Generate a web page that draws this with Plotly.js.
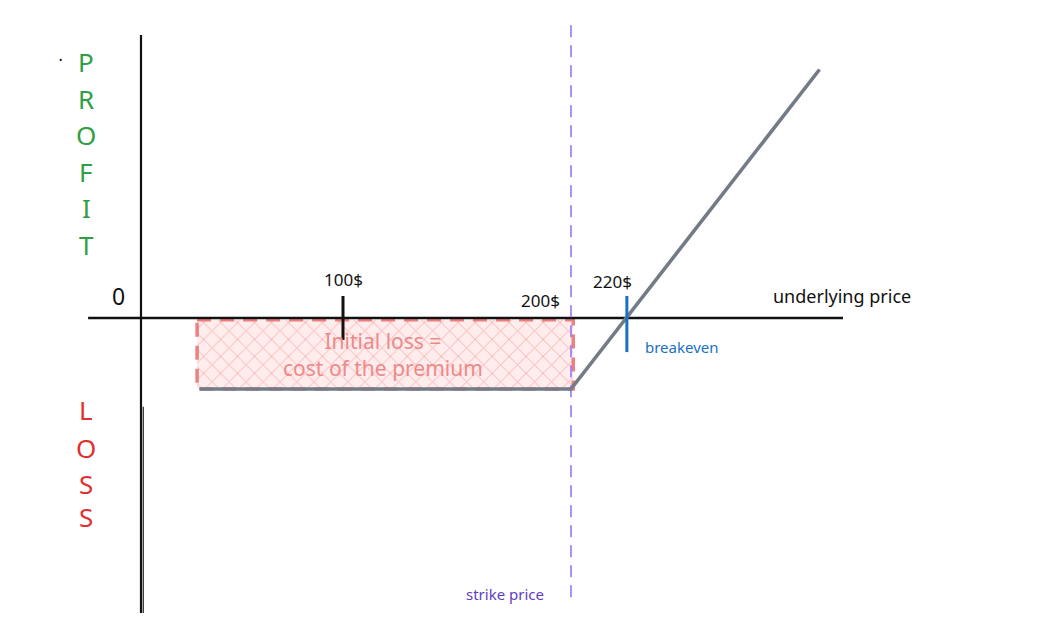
<!DOCTYPE html>
<html>
<head>
<meta charset="utf-8">
<script src="https://cdn.plot.ly/plotly-3.0.1.min.js"></script>
<style>html,body{margin:0;padding:0;background:#fff;}#chart{width:1050px;height:644px;}</style>
</head>
<body>
<div id="chart"></div>
<script>
// ---- data (price in $, profit/loss in $) ----
const strikePrice = 200;
const premium = 20;
const breakevenPrice = 224.5;          // where the drawn payoff crosses zero
const tickPrices = [100, 200, 220];
const tickLabels = ['100$', '200$', '220$'];
const payoffPrice = [37, 200, 309];
const payoffPL = [-20, -20, 70];
const lossBoxPrice = [36, 201];
const lossBoxPL = [-0.5, -20];
const profitLetters = ['P', 'R', 'O', 'F', 'I', 'T'];
const lossLetters = ['L', 'O', 'S', 'S'];

// ---- pixel helpers for text placement (plot area = whole page) ----
const W = 1050, H = 644;
const xRange = [-50.44, 410.09];
const yRange = [-91.83, 89.58];
const pp = (x, y) => ({x: x / W, y: 1 - y / H});

const font = 'Noto Sans, sans-serif';
const traces = [];

// loss area (hatched, dashed border)
traces.push({
  x: [lossBoxPrice[0], lossBoxPrice[1], lossBoxPrice[1], lossBoxPrice[0], lossBoxPrice[0]],
  y: [lossBoxPL[0], lossBoxPL[0], lossBoxPL[1], lossBoxPL[1], lossBoxPL[0]],
  mode: 'lines', fill: 'toself', fillcolor: 'rgba(255,255,255,0)',
  fillpattern: {shape: 'x', fgcolor: 'rgba(240,130,130,0.6)', bgcolor: 'rgba(255,228,228,0.7)', size: 12, solidity: 0.14},
  line: {color: 'rgba(230,100,100,0.8)', width: 3.5, dash: '14px,9px'},
  hoverinfo: 'skip', showlegend: false
});
// y axis (profit/loss)
traces.push({x: [11.4, 11.4], y: [79.7, -83.1], mode: 'lines', line: {color: '#111', width: 2.2}, hoverinfo: 'skip', showlegend: false});
traces.push({x: [12.4, 12.4], y: [-25, -83.1], mode: 'lines', line: {color: '#222', width: 1.2}, hoverinfo: 'skip', showlegend: false});
// x axis (underlying price)
traces.push({x: [-11.8, 319.3], y: [0, 0], mode: 'lines', line: {color: '#111', width: 2.4}, hoverinfo: 'skip', showlegend: false});
// strike line
traces.push({x: [strikePrice, strikePrice], y: [82.5, -80.8], mode: 'lines', line: {color: '#9775fa', width: 1.6, dash: '12px,8px'}, hoverinfo: 'skip', showlegend: false});
// 100$ tick
traces.push({x: [tickPrices[0], tickPrices[0]], y: [6.2, -6.2], mode: 'lines', line: {color: '#111', width: 3}, hoverinfo: 'skip', showlegend: false});
// payoff
traces.push({x: payoffPrice, y: payoffPL, mode: 'lines', line: {color: '#737b86', width: 3.6}, hoverinfo: 'skip', showlegend: false});
// breakeven tick
traces.push({x: [breakevenPrice, breakevenPrice], y: [6.2, -9.6], mode: 'lines', line: {color: '#1971c2', width: 3}, hoverinfo: 'skip', showlegend: false});

const ann = [];
function txt(px, py, text, size, color) {
  const p = pp(px, py);
  ann.push({xref: 'paper', yref: 'paper', x: p.x, y: p.y, text: text, showarrow: false,
    xanchor: 'center', yanchor: 'middle', font: {family: font, size: size, color: color}});
}
profitLetters.forEach((l, i) => txt(86, [62, 99, 135, 172, 208, 245][i], l, 26, '#2f9e44'));
lossLetters.forEach((l, i) => txt(86, [410, 448, 484, 517][i], l, 26, '#e03131'));
txt(60, 60, '•', 9, '#111');
txt(118, 296, '0', 23, '#111');
// tick labels at data prices
const tickPos = [[0, 280], [-31, 300], [-4, 281]];
tickPrices.forEach((p, i) => {
  ann.push({xref: 'x', yref: 'paper', x: p, y: 1 - tickPos[i][1] / H, xshift: tickPos[i][0], text: tickLabels[i],
    showarrow: false, xanchor: 'center', yanchor: 'middle', font: {family: font, size: 17, color: '#111'}});
});
txt(842, 296, 'underlying price', 18, '#111');
txt(682, 347, 'breakeven', 15, '#1971c2');
txt(505, 594, 'strike price', 15, '#5f3dc4');
txt(383, 354, 'Initial loss =<br>cost of the premium', 21, '#ec8a8a');

const layout = {
  width: W, height: H,
  margin: {l: 0, r: 0, t: 0, b: 0},
  paper_bgcolor: '#fff', plot_bgcolor: '#fff',
  xaxis: {range: xRange, visible: false, fixedrange: true},
  yaxis: {range: yRange, visible: false, fixedrange: true},
  annotations: ann,
  showlegend: false
};
Plotly.newPlot('chart', traces, layout, {displayModeBar: false, staticPlot: true});
</script>
</body>
</html>
